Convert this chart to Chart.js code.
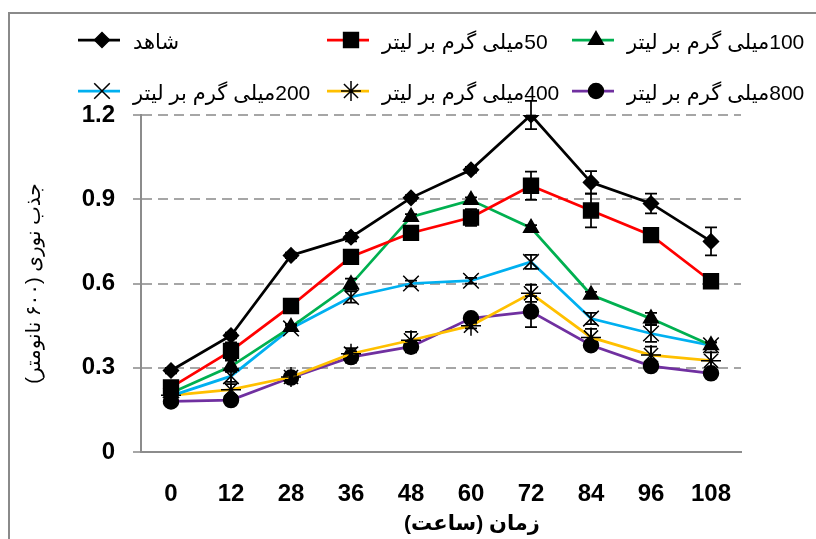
<!DOCTYPE html>
<html><head><meta charset="utf-8">
<script src="https://cdn.jsdelivr.net/npm/chart.js@4"></script>
<style>html,body{margin:0;padding:0;background:#fff}#wrap{width:816px;height:539px;position:relative}canvas{direction:rtl;display:block}</style>
</head><body><div id="wrap"><canvas id="c" width="816" height="539"></canvas></div>
<script>
const categories = ['0','12','28','36','48','60','72','84','96','108'];
const seriesNames = ['شاهد','50میلی گرم بر لیتر','100میلی گرم بر لیتر','200میلی گرم بر لیتر','400میلی گرم بر لیتر','800میلی گرم بر لیتر'];
const control = [0.29,0.415,0.70,0.765,0.905,1.005,1.20,0.96,0.885,0.75];
const mg50    = [0.23,0.36,0.52,0.695,0.78,0.835,0.948,0.86,0.772,0.608];
const mg100   = [0.21,0.305,0.445,0.597,0.837,0.897,0.798,0.56,0.475,0.38];
const mg200   = [0.20,0.27,0.44,0.552,0.60,0.61,0.677,0.475,0.422,0.38];
const mg400   = [0.202,0.222,0.267,0.35,0.398,0.45,0.565,0.408,0.345,0.325];
const mg800   = [0.18,0.185,0.265,0.338,0.375,0.476,0.50,0.38,0.306,0.28];
const errControl = [0.01,0.01,0.01,0.015,0.01,0.01,0.05,0.04,0.035,0.05];
const err50      = [0.01,0.03,0.01,0.01,0.01,0.03,0.05,0.06,0.01,0.01];
const err100     = [0.01,0.02,0.01,0.02,0.01,0.01,0.01,0.01,0.02,0.01];
const err200     = [0.01,0.02,0.01,0.02,0.01,0.01,0.025,0.02,0.03,0.01];
const err400     = [0.01,0.02,0.01,0.02,0.03,0.01,0.03,0.03,0.03,0.03];
const err800     = [0.01,0.01,0.01,0.02,0.02,0.01,0.055,0.01,0.01,0.01];
const yTicks = [0,0.3,0.6,0.9,1.2];
const yTitle = 'جذب نوری (۶۰۰ نانومتر)';
const xTitle = 'زمان (ساعت)';

const values = [control, mg50, mg100, mg200, mg400, mg800];
const errors = [errControl, err50, err100, err200, err400, err800];
const colors = ['#000000','#ff0000','#00b050','#00b0f0','#ffc000','#7030a0'];
const styles = ['rectRot','rect','triangle','crossRot','star','circle'];
const radii = [7.5,10.5,8.5,11,10,7.5];

const datasets = values.map((v,i)=>({
  label: seriesNames[i], data: v, borderColor: colors[i], borderWidth: 2.75,
  pointStyle: styles[i], pointRadius: radii[i], pointBackgroundColor: '#000', pointBorderColor: '#000',
  pointBorderWidth: 1.5, tension: 0, fill: false
}));

const framePlugin = {
  id: 'frame',
  beforeDraw(chart){
    const ctx = chart.ctx; ctx.save();
    ctx.fillStyle = '#fff'; ctx.fillRect(0,0,chart.width,chart.height);
    ctx.strokeStyle = '#8a8a8a'; ctx.lineWidth = 2;
    ctx.strokeRect(9,13,2000,2000);
    ctx.restore();
  }
};

const errorPlugin = {
  id: 'errbars',
  afterDatasetsDraw(chart){
    const ctx = chart.ctx, y = chart.scales.y;
    ctx.save(); ctx.strokeStyle = '#000'; ctx.lineWidth = 1.75;
    errors.forEach((errs,i)=>{
      const meta = chart.getDatasetMeta(i);
      meta.data.forEach((pt,j)=>{
        const e = errs[j]; if(!e) return;
        const v = values[i][j];
        const t = y.getPixelForValue(v+e), b = y.getPixelForValue(v-e);
        ctx.beginPath();
        ctx.moveTo(pt.x,t); ctx.lineTo(pt.x,b);
        ctx.moveTo(pt.x-6,t); ctx.lineTo(pt.x+6,t);
        ctx.moveTo(pt.x-6,b); ctx.lineTo(pt.x+6,b);
        ctx.stroke();
      });
    });
    ctx.restore();
  }
};

const legendPos = [[78,40],[327,40],[572,40],[78,91],[327,91],[572,91]];
const legendPlugin = {
  id: 'customLegend',
  afterDraw(chart){
    const ctx = chart.ctx; ctx.save();
    seriesNames.forEach((name,i)=>{
      const [x,y] = legendPos[i];
      ctx.strokeStyle = colors[i]; ctx.lineWidth = 2.75;
      ctx.beginPath(); ctx.moveTo(x,y); ctx.lineTo(x+42,y); ctx.stroke();
      ctx.fillStyle = '#000'; ctx.strokeStyle = '#000'; ctx.lineWidth = 1.5;
      Chart.helpers.drawPoint(ctx, {pointStyle: styles[i], radius: radii[i], rotation: 0, borderWidth: 1.5}, x+24, y);
      ctx.font = '21px Arial, "DejaVu Sans", sans-serif';
      ctx.direction = 'rtl';
      ctx.textAlign = 'left'; ctx.textBaseline = 'middle';
      ctx.fillStyle = '#000';
      ctx.fillText(name, x+55, y+3);
    });
    ctx.font = 'bold 21px Arial, "DejaVu Sans", sans-serif';
    ctx.direction = 'rtl'; ctx.textAlign = 'center'; ctx.textBaseline = 'middle';
    ctx.fillText(xTitle, 472, 524);
    ctx.restore();
  }
};

new Chart(document.getElementById('c'), {
  type: 'line',
  data: { labels: categories, datasets },
  plugins: [framePlugin, errorPlugin, legendPlugin],
  options: {
    responsive: false, animation: false,
    layout: { padding: { top: 115, right: 75, bottom: 0, left: 0 } },
    plugins: { legend: { display: false }, tooltip: { enabled: false } },
    scales: {
      x: {
        offset: true,
        grid: { display: false },
        border: { display: true, color: '#8c8c8c', width: 2 },
        ticks: { color: '#000', font: { family: 'Arial', size: 24, weight: 'bold' }, padding: 20, maxRotation: 0 },
        afterFit(s){ s.height = 87; }
      },
      y: {
        min: 0, max: 1.2,
        afterBuildTicks(s){ s.ticks = yTicks.map(v=>({value:v})); },
        grid: { color: '#a6a6a6', lineWidth: 2, tickLength: 8, drawTicks: true },
        border: { display: true, color: '#8c8c8c', width: 2, dash: [10,6] },
        ticks: { color: '#000', font: { family: 'Arial', size: 24, weight: 'bold' }, padding: 18,
                 callback: v => v === 0 ? '0' : Number(v).toFixed(1) },
        title: { display: true, text: yTitle, color: '#000', font: { family: 'Arial, "DejaVu Sans"', size: 20 }, padding: { top: 22, bottom: 0 } },
        afterFit(s){ s.width = 141; }
      }
    }
  }
});
</script></body></html>
